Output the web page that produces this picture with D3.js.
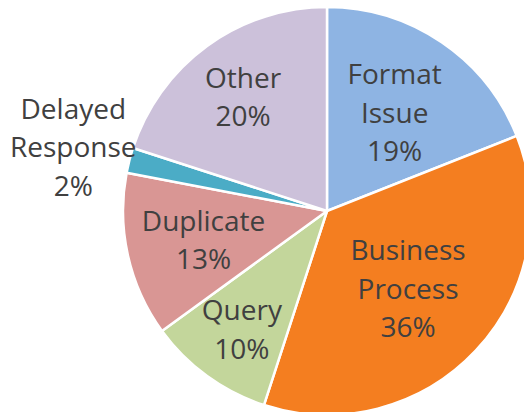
<!DOCTYPE html>
<html>
<head>
<meta charset="utf-8">
<script src="https://cdn.jsdelivr.net/npm/d3@7"></script>
<style>
  html, body { margin: 0; padding: 0; background: #fff; }
  svg { display: block; }
</style>
</head>
<body>
<svg width="524" height="412"></svg>
<script>
// slices, clockwise from 12 o'clock
const categories = ["Format Issue", "Business Process", "Query", "Duplicate", "Delayed Response", "Other"];
const values = [19, 36, 10, 13, 2, 20];
const labelLines = [["Format", "Issue"], ["Business", "Process"], ["Query"], ["Duplicate"], ["Delayed", "Response"], ["Other"]];
const colors = ["#8EB4E3", "#F47E20", "#C3D69B", "#D99694", "#4BACC6", "#CCC1DA"];

// label distance from centre, as a fraction of the radius
const labelRadius = [0.59, 0.545, 0.71, 0.62, 1.284, 0.70];

var svg = d3.select("svg"),
    width = +svg.attr("width"),
    height = +svg.attr("height");

const cx = 327, cy = 211, radius = 204;
const lineH = 38.5;

const pie = d3.pie().sort(null).value(d => d.value);
const arc = d3.arc().innerRadius(0).outerRadius(radius);

const data = categories.map((c, i) => ({name: c, value: values[i], i: i}));
const arcs = pie(data);
const total = d3.sum(values);

const g = svg.append("g").attr("transform", "translate(" + cx + "," + cy + ")");

g.selectAll("path")
  .data(arcs)
  .join("path")
    .attr("d", arc)
    .attr("fill", d => colors[d.data.i])
    .attr("stroke", "#fff")
    .attr("stroke-width", 2.5)
    .attr("stroke-linejoin", "round");

const label = g.selectAll("text")
  .data(arcs)
  .join("text")
    .attr("text-anchor", "middle")
    .attr("font-family", "'Open Sans', sans-serif")
    .attr("font-size", 28)
    .attr("fill", "#404040")
    .attr("transform", d => {
      const a = (d.startAngle + d.endAngle) / 2;
      const r = radius * labelRadius[d.data.i];
      return "translate(" + (Math.sin(a) * r) + "," + (-Math.cos(a) * r) + ")";
    });

label.each(function(d) {
  const lines = labelLines[d.data.i].concat([Math.round(d.data.value / total * 100) + "%"]);
  const t = d3.select(this);
  const y0 = -(lines.length - 1) * lineH / 2 + 11.5;
  lines.forEach((s, k) => {
    t.append("tspan").attr("x", 0).attr("y", y0 + k * lineH).text(s);
  });
});
</script>
</body>
</html>
